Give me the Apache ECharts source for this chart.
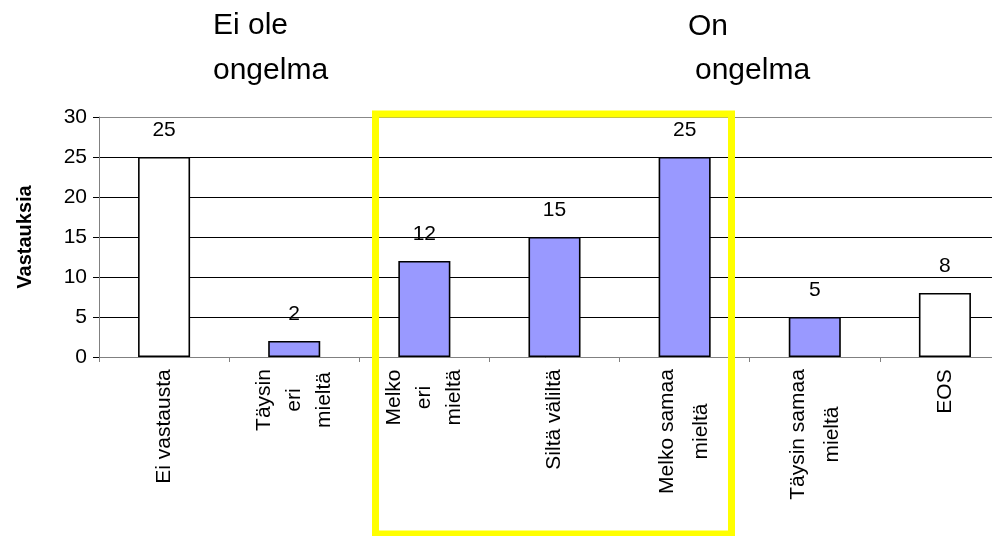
<!DOCTYPE html>
<html>
<head>
<meta charset="utf-8">
<script src="https://cdn.jsdelivr.net/npm/echarts@6/dist/echarts.min.js"></script>
<style>
html,body{margin:0;padding:0;background:#fff;}
#chart{width:992px;height:536px;}
</style>
</head>
<body>
<div id="chart"></div>
<script>
// ---- data ----
var categories = [
  'Ei vastausta',
  'Täysin\neri\nmieltä',
  'Melko\neri\nmieltä',
  'Siltä väliltä',
  'Melko samaa\nmieltä',
  'Täysin samaa\nmieltä',
  'EOS'
];
var values = [25, 2, 12, 15, 25, 5, 8];
var yTicks = [0, 5, 10, 15, 20, 25, 30];
var yAxisTitle = 'Vastauksia';
var headerLeft = ['Ei ole', 'ongelma'];
var headerRight = ['On', 'ongelma'];

// ---- styles ----
var barColors = ['#FFFFFF', '#9999FF', '#9999FF', '#9999FF', '#9999FF', '#9999FF', '#FFFFFF'];
var FONT = '"Liberation Sans", Arial, sans-serif';
var xLabelSize = 21;

var ctx = document.createElement('canvas').getContext('2d');
ctx.font = xLabelSize + 'px ' + FONT;
var rich = {};
categories.forEach(function (c, i) {
  var lines = c.split('\n');
  var w = 0;
  lines.forEach(function (l) { w = Math.max(w, ctx.measureText(l).width); });
  rich['c' + i] = {
    width: Math.ceil(w) + 2,
    align: 'center',
    fontSize: xLabelSize,
    fontFamily: FONT,
    color: '#000',
    lineHeight: lines.length >= 3 ? 30 : 34
  };
});

var chart = echarts.init(document.getElementById('chart'), null, {renderer: 'canvas'});
var option = {
  animation: false,
  backgroundColor: '#fff',
  grid: {left: 99, top: 117, width: 911, height: 240, containLabel: false, outerBoundsMode: 'none'},
  xAxis: {
    type: 'category',
    data: categories,
    axisLine: {show: true, lineStyle: {color: '#808080', width: 1}},
    axisTick: {show: true, length: 5, lineStyle: {color: '#808080'}},
    axisLabel: {
      interval: 0,
      rotate: 90,
      margin: 11,
      formatter: function (v, i) {
        return v.split('\n').map(function (l) { return '{c' + i + '|' + l + '}'; }).join('\n');
      },
      rich: rich
    },
    splitLine: {show: false}
  },
  yAxis: {
    type: 'value',
    min: yTicks[0],
    max: yTicks[yTicks.length - 1],
    interval: yTicks[1] - yTicks[0],
    name: yAxisTitle,
    nameLocation: 'middle',
    nameRotate: 90,
    nameGap: 64,
    nameTextStyle: {fontFamily: FONT, fontSize: 20, fontWeight: 'bold', color: '#000'},
    axisLine: {show: true, lineStyle: {color: '#808080', width: 1}},
    axisTick: {show: true, length: 6, lineStyle: {color: '#000'}},
    axisLabel: {margin: 12, fontFamily: FONT, fontSize: 21, color: '#000'},
    splitLine: {show: true, lineStyle: {color: ['#000', '#000', '#000', '#000', '#000', '#000', '#888'], width: 1}}
  },
  series: [{
    type: 'bar',
    barWidth: '40%',
    data: values.map(function (v, i) {
      return {value: v, itemStyle: {color: barColors[i]}};
    }),
    itemStyle: {borderColor: '#000', borderWidth: 1.6},
    label: {
      show: true,
      position: 'top',
      distance: 16,
      fontFamily: FONT,
      fontSize: 21,
      color: '#000'
    }
  }],
  graphic: [
    {type: 'text', left: 213, top: 11, style: {text: headerLeft[0], font: '30px ' + FONT, fill: '#000'}},
    {type: 'text', left: 213, top: 56, style: {text: headerLeft[1], font: '30px ' + FONT, fill: '#000'}},
    {type: 'text', left: 688, top: 12, style: {text: headerRight[0], font: '30px ' + FONT, fill: '#000'}},
    {type: 'text', left: 695, top: 56, style: {text: headerRight[1], font: '30px ' + FONT, fill: '#000'}},
    {type: 'rect', shape: {x: 375.5, y: 114, width: 356, height: 420}, style: {fill: 'none', stroke: '#FFFF00', lineWidth: 7}, z: 100}
  ]
};
chart.setOption(option);
</script>
</body>
</html>
